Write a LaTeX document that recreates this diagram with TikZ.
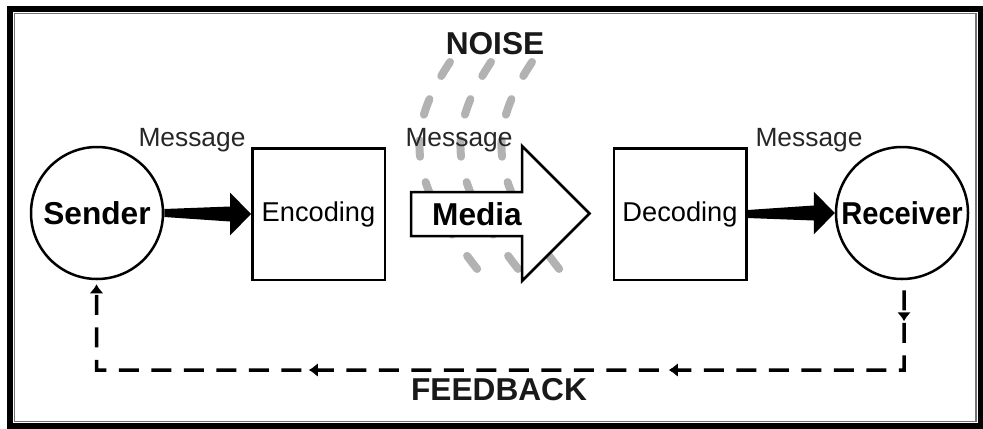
\documentclass[tikz,border=0pt]{standalone}
\usepackage{fontspec}
\setmainfont{Liberation Sans}
\usepackage{graphicx}
\usepackage{tikz}
\usetikzlibrary{calc,arrows.meta,decorations,decorations.markings}
% black wedge arrow from the east side of #1 to the west side of #2
\newcommand{\tikzWedgeArrow}[2]{
  \fill ($(#1.east)+(0,0.08)$) -- ($(#2.west)+(-0.42,0.15)$) -- ($(#2.west)+(-0.42,0.43)$) -- (#2.west)
     -- ($(#2.west)+(-0.42,-0.43)$) -- ($(#2.west)+(-0.42,-0.15)$) -- ($(#1.east)+(0,-0.08)$) -- cycle;
}

\begin{document}
\begin{tikzpicture}[
    party/.style={draw,circle,line width=0.05cm,minimum size=2.64cm,inner sep=0pt,font=\bfseries\fontsize{18}{20}\selectfont},
    coder/.style={draw,rectangle,line width=0.05cm,minimum width=2.65cm,minimum height=2.63cm,font=\fontsize{15.5}{18}\selectfont},
    msg/.style={anchor=base,text=black!85,font=\fontsize{15}{18}\selectfont},
    title/.style={anchor=base,text=black!90,font=\bfseries\fontsize{18}{20}\selectfont},
    fbtip/.tip={Latex[length=0.18cm,width=0.28cm]}]
  \useasboundingbox (0,0) rectangle (19.66,8.56);

  % frame
  \draw[line width=0.12cm] (0.20,0.05) rectangle (19.61,8.38);
  \draw[line width=0.03cm,black!55] (0.29,0.13) rectangle (19.52,8.29);

  % noise
  \foreach \dx in {0,0.82,1.64}
    \draw[line width=0.16cm,black!30,line cap=round,dash pattern=on 0.33cm off 0.52cm]
      (9.00+\dx,7.32) .. controls (8.10+\dx,5.96) and (8.10+\dx,4.96) .. (9.64+\dx,3.06);
  \node[title] (noise) at (9.90,7.48) {NOISE};

  \node[party] (sender) at (1.94,4.30) {Sender};
  \node[coder] (enc) at (6.37,4.28) {Encoding};
  \node[coder] (dec) at (13.60,4.28) {Decoding};
  \node[party] (receiver) at (18.04,4.30) {\scalebox{0.92}[1]{Receiver}};

  % the media arrow
  \draw[line width=0.05cm,fill=white] (8.22,4.72) -- (10.44,4.72) -- (10.44,5.64) -- (11.79,4.29)
     -- (10.44,2.94) -- (10.44,3.84) -- (8.22,3.84) -- cycle;
  \node[font=\bfseries\fontsize{18}{20}\selectfont] (media) at (9.54,4.28) {Media};

  \node[msg] (msg1) at (3.84,5.64) {Message};
  \node[msg] (msg2) at (9.18,5.64) {Message};
  \node[msg] (msg3) at (16.18,5.64) {Message};

  \tikzWedgeArrow{sender}{enc}
  \tikzWedgeArrow{dec}{receiver}

  % feedback loop
  \coordinate (fbr) at (18.08,1.16);
  \coordinate (fbl) at (1.93,1.16);
  \draw[line width=0.07cm,dash pattern=on 0.4cm off 0.25cm,-fbtip,
        postaction={decorate,decoration={markings,
          mark=at position 0.62cm with {\arrow{fbtip}},
          mark=at position 6.3cm with {\arrow{fbtip}},
          mark=at position 13.5cm with {\arrow{fbtip}}}}]
    ($(receiver.south)+(0.04,-0.2)$) -- (fbr) -- (fbl) -- ($(sender.south)+(-0.01,-0.08)$);
  \node[title] (feedback) at (9.98,0.56) {FEEDBACK};
\end{tikzpicture}
\end{document}
